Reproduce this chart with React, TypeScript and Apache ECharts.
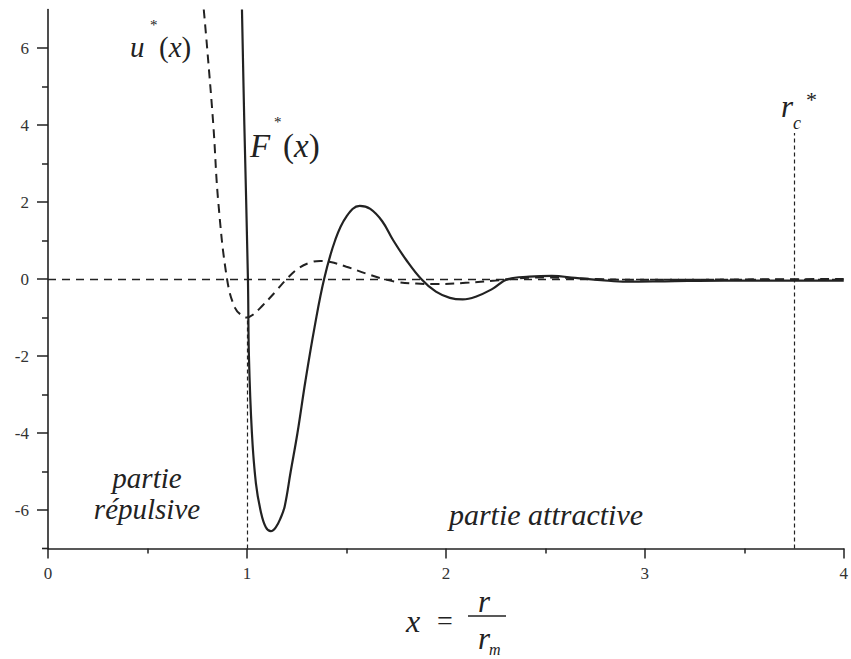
import React, { useEffect, useRef } from "react";
import * as echarts from "echarts";

// u*(x) — dashed potential curve
const uX = [0.783, 0.8, 0.831, 0.856, 0.9, 0.94, 0.98, 1.0, 1.03, 1.08, 1.14, 1.2, 1.26, 1.32, 1.368, 1.42, 1.5, 1.6, 1.687, 1.76, 1.85, 1.95, 2.1, 2.25, 2.33, 2.42, 2.5, 2.6, 2.75, 2.95, 3.2, 3.5, 4.0];
const uY = [7.0, 6.0, 4.0, 2.0, 0.0, -0.75, -0.97, -1.0, -0.93, -0.68, -0.35, 0.0, 0.28, 0.43, 0.47, 0.44, 0.32, 0.14, 0.0, -0.08, -0.12, -0.13, -0.1, -0.04, 0.0, 0.03, 0.04, 0.03, 0.0, -0.02, -0.02, -0.01, 0.0];

// F*(x) — solid curve
const fX = [0.975, 0.987, 1.005, 1.01, 1.025, 1.045, 1.07, 1.095, 1.12, 1.145, 1.17, 1.19, 1.22, 1.254, 1.294, 1.34, 1.388, 1.443, 1.5, 1.567, 1.62, 1.68, 1.736, 1.8, 1.876, 1.95, 2.02, 2.085, 2.15, 2.23, 2.313, 2.42, 2.532, 2.65, 2.78, 2.91, 3.1, 3.4, 3.7, 4.0];
const fY = [7.0, 4.0, 0.0, -2.0, -4.0, -5.3, -6.05, -6.45, -6.55, -6.45, -6.2, -5.9, -5.0, -4.0, -2.65, -1.25, 0.0, 1.0, 1.62, 1.9, 1.82, 1.5, 1.0, 0.5, 0.0, -0.33, -0.49, -0.53, -0.46, -0.27, 0.0, 0.06, 0.08, 0.03, -0.03, -0.07, -0.06, -0.04, -0.04, -0.04];

// axis ticks
const xMin = 0;
const xMax = 4;
const yMin = -7;
const yMax = 7;
const yMajorTicks = [-6, -4, -2, 0, 2, 4, 6];
const yMinorTicks = [-5, -3, -1, 1, 3, 5];

// reference lines
const rcStar = 3.75;
const rcTop = 3.79;
const xOne = 1;
const uMinVal = -1;

const SERIF = "Liberation Serif, Times New Roman, serif";
const INK = "#222";

export default function App() {
  const ref = useRef<HTMLDivElement>(null);

  useEffect(() => {
    if (!ref.current) return;
    const chart = echarts.init(ref.current, undefined, { renderer: "svg" });

    const uData = uX.map((x, i) => [x, uY[i]]);
    const fData = fX.map((x, i) => [x, fY[i]]);

    const txt = (text: string, left: number, y: number, size: number, isItalic: boolean, extra: any = {}) => ({
      type: "text",
      x: left,
      y,
      style: {
        text,
        fill: INK,
        fontFamily: SERIF,
        fontSize: size,
        fontStyle: isItalic ? "italic" : "normal",
        verticalAlign: "middle",
        ...extra,
      },
      silent: true,
    });
    const paren = (left: number, y: number, size: number) => ({
      type: "text",
      x: left,
      y,
      style: {
        text: "{n|(}{i|x}{n|)}",
        verticalAlign: "middle",
        rich: {
          n: { fontFamily: SERIF, fontSize: size, fill: INK },
          i: { fontFamily: SERIF, fontSize: size, fontStyle: "italic", fill: INK },
        },
      },
      silent: true,
    });

    const option: any = {
      animation: false,
      backgroundColor: "#fff",
      textStyle: { fontFamily: SERIF },
      grid: { left: 48, top: 9.5, width: 804, height: 539 },
      xAxis: {
        type: "value",
        min: xMin,
        max: xMax,
        interval: 1,
        axisLine: { show: true, onZero: false, lineStyle: { color: INK, width: 1.6 } },
        axisTick: { show: true, length: 10, lineStyle: { color: INK, width: 1.5 } },
        minorTick: { show: true, splitNumber: 2, length: 5, lineStyle: { color: INK, width: 1.5 } },
        axisLabel: { color: "#333", fontSize: 17, fontFamily: SERIF, margin: 16, showMaxLabel: true },
        splitLine: { show: false },
      },
      yAxis: [
        {
          type: "value",
          min: yMin,
          max: yMax,
          position: "left",
          axisLine: { show: true, onZero: false, lineStyle: { color: INK, width: 1.6 } },
          axisTick: { show: true, length: 11, customValues: yMajorTicks, lineStyle: { color: INK, width: 1.5 } },
          axisLabel: {
            color: "#333",
            fontSize: 17,
            fontFamily: SERIF,
            margin: 19,
            customValues: yMajorTicks,
          },
          splitLine: { show: false },
        },
        {
          type: "value",
          min: yMin,
          max: yMax,
          position: "left",
          axisLine: { show: false },
          axisTick: { show: true, length: 6, customValues: yMinorTicks, lineStyle: { color: INK, width: 1.5 } },
          axisLabel: { show: false },
          splitLine: { show: false },
        },
      ],
      series: [
        {
          name: "u*(x)",
          type: "line",
          data: uData,
          showSymbol: false,
          smooth: 0.4,
          lineStyle: { color: INK, width: 2, type: [9, 6] },
          z: 3,
          markLine: {
            silent: true,
            symbol: "none",
            label: { show: false },
            lineStyle: { color: INK, width: 1.3, type: [8, 6] },
            data: [[{ coord: [xMin, 0] }, { coord: [xMax, 0] }]],
          },
        },
        {
          name: "F*(x)",
          type: "line",
          data: fData,
          showSymbol: false,
          smooth: 0.4,
          lineStyle: { color: INK, width: 2.2 },
          z: 4,
          markLine: {
            silent: true,
            symbol: "none",
            label: { show: false },
            lineStyle: { color: INK, width: 1.2, type: [4, 3] },
            data: [
              [{ coord: [xOne, yMin] }, { coord: [xOne, uMinVal] }],
              [{ coord: [rcStar, yMin] }, { coord: [rcStar, rcTop] }],
            ],
          },
        },
      ],
      graphic: [
        { type: "line", shape: { x1: 42, y1: 548.5, x2: 49, y2: 548.5 }, style: { stroke: INK, lineWidth: 1.6 }, silent: true },
        // u*(x)
        txt("u", 130, 47, 29, true),
        txt("*", 150, 25, 15, false),
        paren(159, 47, 29),
        // F*(x)
        txt("F", 250, 146, 33, true),
        txt("*", 274, 122, 15, false),
        paren(283, 146, 33),
        // r_c*
        txt("r", 781, 106, 31, true),
        txt("c", 793, 123, 18, true),
        txt("*", 806, 99, 22, false),
        // region labels
        txt("partie", 147, 478, 29, true, { align: "center" }),
        txt("répulsive", 147, 509, 29, true, { align: "center" }),
        txt("partie attractive", 546, 514, 30, true, { align: "center" }),
        // x = r / r_m
        txt("x", 406, 621, 32, true),
        txt("=", 437, 620, 28, false),
        { type: "line", shape: { x1: 468, y1: 616, x2: 506, y2: 616 }, style: { stroke: INK, lineWidth: 1.5 }, silent: true },
        txt("r", 478, 601, 31, true),
        txt("r", 478, 638, 31, true),
        txt("m", 489, 649, 16, true),
      ],
    };

    chart.setOption(option);
    return () => chart.dispose();
  }, []);

  return (
    <div
      ref={ref}
      style={{ position: "fixed", left: 0, top: 0, width: 851, height: 659, background: "#fff" }}
    />
  );
}
